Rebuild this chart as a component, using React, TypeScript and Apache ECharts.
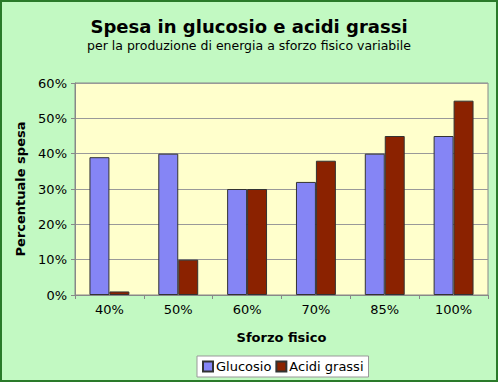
import React, { useEffect, useRef } from "react";
import * as echarts from "echarts";

const categories = ["40%", "50%", "60%", "70%", "85%", "100%"];
const glucosio = [39, 40, 30, 32, 40, 45];
const acidiGrassi = [1, 10, 30, 38, 45, 55];
const seriesNames = ["Glucosio", "Acidi grassi"];

export default function App() {
  const ref = useRef<HTMLDivElement>(null);
  useEffect(() => {
    if (!ref.current) return;
    const chart = echarts.init(ref.current, null, { renderer: "svg" });
    const font = "DejaVu Sans, Verdana, sans-serif";
    chart.setOption({
      animation: false,
      backgroundColor: "#C2F9C2",
      textStyle: { fontFamily: font },
      title: {
        text: "Spesa in glucosio e acidi grassi",
        subtext: "per la produzione di energia a sforzo fisico variabile",
        left: "center",
        top: 12,
        itemGap: 4,
        textStyle: { fontSize: 18, fontWeight: "bold", color: "#000", fontFamily: font },
        subtextStyle: { fontSize: 12.5, color: "#000", fontFamily: font },
      },
      legend: {
        data: seriesNames,
        top: 356,
        left: 197,
        itemWidth: 10,
        itemHeight: 10,
        itemGap: 4,
        backgroundColor: "#fff",
        borderColor: "#999",
        borderWidth: 1,
        padding: [4, 5],
        borderRadius: 0,
        textStyle: { fontSize: 13, color: "#000", fontFamily: font, padding: [0, 0, 0, -2] },
        icon: "rect",
      },
      grid: { left: 75, right: 10, top: 83, bottom: 87, show: true, backgroundColor: "#FFFFCC", borderColor: "#888", borderWidth: 1 },
      xAxis: {
        type: "category",
        data: categories,
        name: "Sforzo fisico",
        nameLocation: "middle",
        nameGap: 36,
        nameTextStyle: { fontSize: 13, fontWeight: "bold", color: "#000", fontFamily: font },
        axisLine: { lineStyle: { color: "#888" } },
        axisTick: { show: true, length: 4, lineStyle: { color: "#888" } },
        axisLabel: { fontSize: 13, color: "#000", margin: 8 },
      },
      yAxis: {
        type: "value",
        min: 0,
        max: 60,
        interval: 10,
        name: "Percentuale spesa",
        nameLocation: "middle",
        nameGap: 47,
        nameTextStyle: { fontSize: 13, fontWeight: "bold", color: "#000", fontFamily: font },
        axisLine: { show: true, lineStyle: { color: "#888" } },
        axisTick: { show: true, length: 4, lineStyle: { color: "#888" } },
        axisLabel: { fontSize: 13, color: "#000", formatter: "{value}%", margin: 8 },
        splitLine: { lineStyle: { color: "#999" } },
      },
      series: [
        {
          name: seriesNames[0],
          type: "bar",
          data: glucosio,
          barGap: "0%",
          barCategoryGap: "42%",
          itemStyle: { color: "#8585F5", borderColor: "#333", borderWidth: 1 },
        },
        {
          name: seriesNames[1],
          type: "bar",
          data: acidiGrassi,
          itemStyle: { color: "#8B2200", borderColor: "#333", borderWidth: 1 },
        },
      ],
    });
    return () => chart.dispose();
  }, []);
  return (
    <div style={{ position: "fixed", left: 0, top: 0, width: 498, height: 382 }}>
      <div ref={ref} style={{ position: "absolute", left: 0, top: 0, width: 498, height: 382 }} />
      <div
        style={{
          position: "absolute",
          left: 0,
          top: 0,
          width: 498,
          height: 382,
          boxSizing: "border-box",
          border: "2px solid #2A7A2A",
          pointerEvents: "none",
        }}
      />
    </div>
  );
}
